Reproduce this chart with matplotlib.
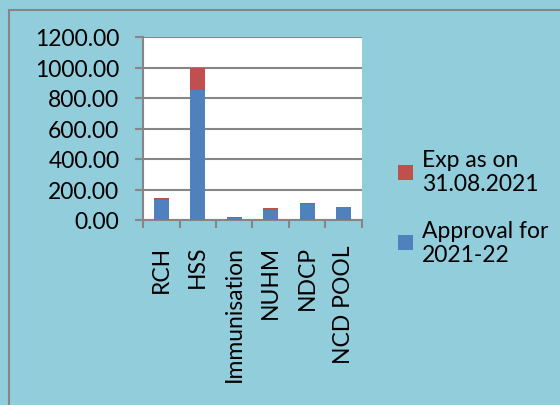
import matplotlib.pyplot as plt
import numpy as np
from matplotlib.patches import Rectangle

categories = ["RCH", "HSS", "Immunisation", "NUHM", "NDCP", "NCD POOL"]
approval = [131, 852, 13, 66, 103, 85]
expenditure = [11, 145, 6, 12, 8, 2]
yticks = [0, 200, 400, 600, 800, 1000, 1200]

bg = "#92CDDC"
grey = "#868686"
plt.rcParams['font.family'] = ['Lato', 'DejaVu Sans']
fs = 16.5

fig = plt.figure(figsize=(5.6, 4.06), dpi=100, facecolor=bg)
# outer chart border (only left/top visible in the crop)
fig.patches.append(Rectangle((9/560, -0.1), 1.2, 1 - 11/406 + 0.1, transform=fig.transFigure,
                             fill=False, edgecolor=grey, linewidth=1.5))

ax = fig.add_axes([143/560, 1 - 221/406, 219/560, 183/406])
ax.set_facecolor("white")
x = np.arange(len(categories))
ax.bar(x, approval, width=0.4, color="#4F81BD", label="Approval for\n2021-22", zorder=3)
ax.bar(x, expenditure, width=0.4, bottom=approval, color="#C0504D",
       label="Exp as on\n31.08.2021", zorder=3)

ax.set_xlim(-0.5, len(categories) - 0.5)
ax.set_ylim(0, 1200)
ax.set_yticks(yticks)
ax.set_yticklabels([f"{v:.2f}" for v in yticks], fontsize=fs)
ax.yaxis.grid(True, color=grey, linewidth=1.5, zorder=0)
ax.set_xticks(x)
ax.set_xticklabels(categories, rotation=90, fontsize=fs)
ax.set_xticks(np.arange(-0.5, len(categories)), minor=True)
ax.tick_params(axis='x', which='major', length=0, pad=18)
ax.tick_params(axis='x', which='minor', length=6, width=1.5, color=grey)
ax.tick_params(axis='y', length=6, width=1.5, color=grey, pad=11)
for s in ["top", "right"]:
    ax.spines[s].set_visible(False)
for s in ["left", "bottom"]:
    ax.spines[s].set_color(grey)
    ax.spines[s].set_linewidth(1.5)

h, l = ax.get_legend_handles_labels()
fig.legend(h[::-1], l[::-1], loc="upper left", bbox_to_anchor=(398/560, 1 - 150/406),
           frameon=False, fontsize=fs, handlelength=0.65, handleheight=0.65,
           handletextpad=0.4, labelspacing=1.1, borderaxespad=0, borderpad=0)

fig.savefig("out.png", dpi=100, facecolor=bg)
